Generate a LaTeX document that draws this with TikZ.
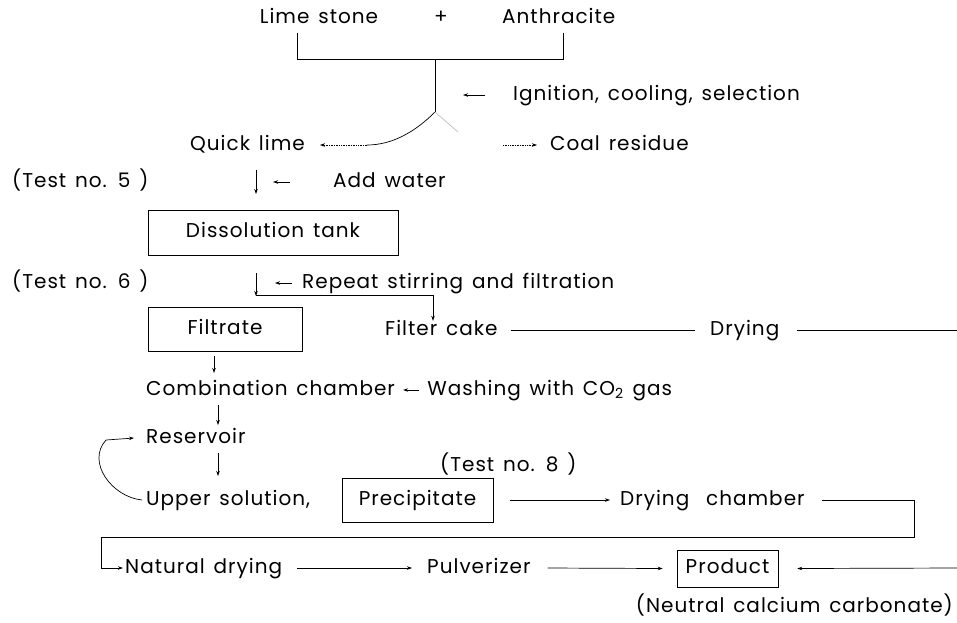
\documentclass[tikz,border=0pt]{standalone}
\usepackage{fontspec}
\setmainfont{Poppins}[LetterSpace=5,WordSpace=1.4]
\usetikzlibrary{arrows.meta,calc}

\begin{document}
\begin{tikzpicture}[x=1pt,y=-1pt,
  lbl/.style={inner sep=0pt,text height=14pt,text depth=4pt,
    font=\fontsize{20}{23}\selectfont},
  tank/.style={lbl,draw,line width=0.6pt},
  ln/.style={line width=0.7pt},
  arr/.style={ln,-{Stealth[length=5pt,width=3.5pt]}}]
 \useasboundingbox (0,0) rectangle (957,622);
    % raw materials and kiln
    \node[lbl] (lime) at (319,18) {Lime stone};
    \node[lbl] (plus) at (441,18) {+};
    \node[lbl,anchor=west] (anth) at (502,18) {Anthracite};
    \coordinate (bl) at (297,59);
    \coordinate (br) at (563,59);
    \coordinate (join) at (435,59);
    \coordinate (split) at (435,112);
    \draw[ln] ($(bl)+(0,-26)$) -- (bl) -- (br) -- ++(0,-26);
    \draw[ln] (join) -- (split);
    \node[lbl,anchor=west] (ign) at (513,95) {Ignition, cooling, selection};
    \draw[arr] ($(ign.west)+(-28,0)$) -- ($(ign.west)+(-50,0)$);
    \node[lbl,anchor=east] (quick) at (305,145) {Quick lime};
    \node[lbl,anchor=west] (coal) at (550,145) {Coal residue};
    \draw[ln] (split) .. controls (415,132) and (392,145) .. (367,145);
    \draw[arr,densely dotted] (367,145) -- ($(quick.east)+(15,0)$);
    \draw[ln,gray!50] (split) -- (458,132);
    \draw[arr,densely dotted] ($(coal.west)+(-47,0)$) -- ($(coal.west)+(-13,0)$);
    % dissolving
    \node[lbl,anchor=west] (test5) at (12,182) {(Test no. 5 )};
    \node[lbl,anchor=west] (water) at (333,182) {Add water};
    \draw[arr] (256,170) -- (256,194);
    \draw[arr] ($(water.west)+(-43,0)$) -- ($(water.west)+(-60,0)$);
    \node[tank,minimum width=250,minimum height=45] (tank) at (273,232.5) {Dissolution tank};
    \node[lbl,anchor=west] (test6) at (12,283) {(Test no. 6 )};
    \node[lbl,anchor=west] (repeat) at (302,283) {Repeat stirring and filtration};
    \draw[arr] (256,273) -- (256,296);
    \draw[arr] ($(repeat.west)+(-10,0)$) -- ($(repeat.west)+(-27,0)$);
    \node[tank,minimum width=154,minimum height=44] (filtrate) at (225,329) {Filtrate};
    \node[lbl,anchor=west] (cake) at (385,330) {Filter cake};
    \node[lbl,anchor=west] (drying) at (710,330) {Drying};
    \coordinate (fk) at (433,295);
    \coordinate (edgeA) at (957,330);
    \draw[ln] (256,295) -- (fk);
    \draw[arr] (fk) -- (fk |- cake.north);
    \draw[ln] ($(cake.east)+(13,0)$) -- ($(drying.west)+(-15,0)$);
    \draw[ln] ($(drying.east)+(17,0)$) -- (edgeA);
    % carbonation
    \draw[arr] (214,356) -- (214,373);
    \node[lbl,anchor=west] (comb) at (146,390) {Combination chamber};
    \node[lbl,anchor=west] (wash) at ($(comb.east)+(32,0)$) {Washing with CO\textsubscript{2} gas};
    \draw[arr] ($(wash.west)+(-8,0)$) -- ($(comb.east)+(8,0)$);
    \draw[arr] (218,405) -- (218,425);
    \node[lbl,anchor=west] (res) at (146,438) {Reservoir};
    \draw[arr] (218,453) -- (218,476);
    \node[lbl,anchor=west] (test8) at (440,466) {(Test no. 8 )};
    \node[lbl,anchor=west] (upper) at (146,500) {Upper solution,};
    \draw[arr] ($(upper.west)+(-4,0)$) .. controls (112,497) and (86,462) .. (106,440)
      -- ($(res.west)+(-12,0)$);
    \node[tank,minimum width=151,minimum height=44] (prec) at (417.5,500) {Precipitate};
    \node[lbl,anchor=west] (dryc) at (620,500) {Drying\hspace{8pt} chamber};
    \draw[arr] ($(prec.east)+(17,0)$) -- ($(dryc.west)+(-10,0)$);
    % drying and milling
    \coordinate (c1) at (914,537);
    \coordinate (c2) at (101,537);
    \node[lbl,anchor=west] (natural) at (125,568) {Natural drying};
    \node[lbl,anchor=west] (pulv) at (427,568) {Pulverizer};
    \node[tank,minimum width=101,minimum height=37] (prod) at (727.5,568.5) {Product};
    \node[lbl,anchor=east] (neutral) at (953,607) {(Neutral calcium carbonate)};
    \coordinate (edgeB) at (957,568);
    \draw[arr] ($(dryc.east)+(17,0)$) -| (c1) -- (c2) |- ($(natural.west)+(-2,0)$);
    \draw[arr] ($(natural.east)+(15,0)$) -- ($(pulv.west)+(-15,0)$);
    \draw[arr] ($(pulv.east)+(17,0)$) -- ($(prod.west)+(-14,0)$);
    \draw[arr] (edgeB) -- ($(prod.east)+(19,0)$);
\end{tikzpicture}
\end{document}
